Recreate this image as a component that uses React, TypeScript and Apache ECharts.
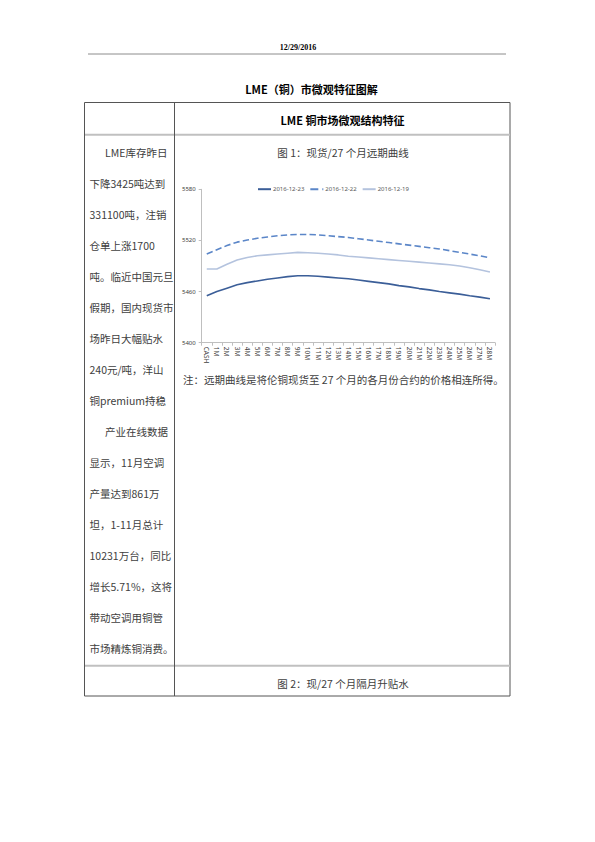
import React, { useEffect, useRef } from "react";
import * as echarts from "echarts";

const categories = ["CASH", "1M", "2M", "3M", "4M", "5M", "6M", "7M", "8M", "9M", "10M", "11M", "12M", "13M", "14M", "15M", "16M", "17M", "18M", "19M", "20M", "21M", "22M", "23M", "24M", "25M", "26M", "27M", "28M"];

const seriesNames = ["2016-12-23", "2016-12-22", "2016-12-19"];

const s20161223 = [5455, 5460, 5464, 5468, 5470.5, 5472.5, 5474.5, 5476, 5477.5, 5478.5, 5478.5, 5478, 5477, 5476, 5475, 5473.5, 5472, 5470.5, 5469, 5467, 5465.5, 5463.5, 5462, 5460, 5458.5, 5457, 5455, 5453.5, 5451.5];
const s20161222 = [5504, 5509, 5514, 5518, 5520.5, 5522.5, 5524, 5525.5, 5526.5, 5527, 5527, 5526.5, 5525.5, 5524.5, 5523.5, 5522, 5520.5, 5519, 5517.5, 5516, 5514.5, 5513, 5511.5, 5510, 5508, 5506, 5504, 5502, 5499.5];
const s20161219 = [5486.5, 5486.5, 5492, 5497, 5500, 5502, 5503, 5504, 5505, 5506, 5505.5, 5505, 5504, 5503, 5501.5, 5500.5, 5499.5, 5498.5, 5497.5, 5496.5, 5495.5, 5494.5, 5493.5, 5492.5, 5491.5, 5490, 5488, 5485.5, 5483];

const yMin = 5400;
const yMax = 5580;
const yInterval = 60;

const leftLines = [
  "LME库存昨日",
  "下降3425吨达到",
  "331100吨，注销",
  "仓单上涨1700",
  "吨。临近中国元旦",
  "假期，国内现货市",
  "场昨日大幅贴水",
  "240元/吨，洋山",
  "铜premium持稳",
  "产业在线数据",
  "显示，11月空调",
  "产量达到861万",
  "坦，1-11月总计",
  "10231万台，同比",
  "增长5.71%，这将",
  "带动空调用铜管",
  "市场精炼铜消费。",
];
const indentedLines = [0, 9];

const headerDate = "12/29/2016";
const pageTitle = "LME（铜）市微观特征图解";
const tableHeader = "LME 铜市场微观结构特征";
const fig1Title = "图 1：现货/27 个月远期曲线";
const fig2Title = "图 2：现/27 个月隔月升贴水";
const noteText = "注：远期曲线是将伦铜现货至 27 个月的各月份合约的价格相连所得。";

const CJK = '"Noto Sans CJK SC", "Noto Sans", sans-serif';
const TEXT_COLOR = "#404040";

export default function App() {
  const ref = useRef<HTMLDivElement>(null);

  useEffect(() => {
    if (!ref.current) return;
    const chart = echarts.init(ref.current, undefined, { renderer: "svg" });

    const graphics: any[] = [
      {
        type: "text",
        x: 298,
        y: 47,
        style: {
          text: headerDate,
          fill: "#000",
          font: 'bold 8px "Liberation Serif", serif',
          textAlign: "center",
          textVerticalAlign: "middle",
        },
      },
      {
        type: "line",
        shape: { x1: 88, y1: 54, x2: 506, y2: 54 },
        style: { stroke: "#8c8c8c", lineWidth: 1 },
      },
      {
        type: "text",
        x: 311.5,
        y: 89,
        style: {
          text: pageTitle,
          fill: "#000",
          font: `bold 11px ${CJK}`,
          textAlign: "center",
          textVerticalAlign: "middle",
        },
      },
      {
        type: "rect",
        shape: { x: 84.5, y: 102.5, width: 425.5, height: 593.5 },
        style: { fill: "none", stroke: "#555", lineWidth: 1 },
      },
      {
        type: "line",
        shape: { x1: 85, y1: 134.7, x2: 510, y2: 134.7 },
        style: { stroke: "#c0c0c0", lineWidth: 2 },
      },
      {
        type: "line",
        shape: { x1: 85, y1: 665.7, x2: 510, y2: 665.7 },
        style: { stroke: "#c0c0c0", lineWidth: 2 },
      },
      {
        type: "line",
        shape: { x1: 174.5, y1: 102.5, x2: 174.5, y2: 696 },
        style: { stroke: "#555", lineWidth: 1 },
      },
      {
        type: "text",
        x: 342.5,
        y: 119.5,
        style: {
          text: tableHeader,
          fill: "#000",
          font: `bold 11px ${CJK}`,
          textAlign: "center",
          textVerticalAlign: "middle",
        },
      },
      {
        type: "text",
        x: 343,
        y: 152,
        style: {
          text: fig1Title,
          fill: TEXT_COLOR,
          font: `10.5px ${CJK}`,
          textAlign: "center",
          textVerticalAlign: "middle",
        },
      },
      {
        type: "text",
        x: 343,
        y: 683,
        style: {
          text: fig2Title,
          fill: TEXT_COLOR,
          font: `10.5px ${CJK}`,
          textAlign: "center",
          textVerticalAlign: "middle",
        },
      },
      {
        type: "text",
        x: 183,
        y: 379,
        style: {
          text: noteText,
          fill: TEXT_COLOR,
          font: `10.5px ${CJK}`,
          textAlign: "left",
          textVerticalAlign: "middle",
        },
      },
    ];

    leftLines.forEach((line, i) => {
      graphics.push({
        type: "text",
        x: indentedLines.includes(i) ? 105 : 89.5,
        y: 152 + i * 31,
        style: {
          text: line,
          fill: TEXT_COLOR,
          font: `10.5px ${CJK}`,
          textAlign: "left",
          textVerticalAlign: "middle",
        },
      });
    });

    const lineColors = ["#3b5e98", "#5b86c8", "#b4c3de"];
    const lineTypes = ["solid", "dashed", "solid"];
    const datas = [s20161223, s20161222, s20161219];

    chart.setOption({
      animation: false,
      backgroundColor: "#ffffff",
      textStyle: { fontFamily: '"Noto Sans", sans-serif' },
      legend: {
        left: 252,
        top: 181,
        itemWidth: 13,
        itemHeight: 8,
        itemGap: 5,
        itemStyle: { opacity: 0 },
        textStyle: { fontSize: 6, color: "#595959", padding: [0, 0, 0, -3] },
        data: seriesNames,
      },
      grid: {
        left: 201.7,
        right: 100,
        top: 189.3,
        bottom: 842 - 342.7,
        containLabel: false,
      },
      xAxis: {
        type: "category",
        data: categories,
        boundaryGap: true,
        axisLine: { lineStyle: { color: "#bfbfbf", width: 1 } },
        axisTick: { show: true, length: 3, lineStyle: { color: "#bfbfbf" } },
        axisLabel: {
          rotate: -90,
          interval: 0,
          fontSize: 6.5,
          color: "#404040",
          margin: 4,
        },
      },
      yAxis: {
        type: "value",
        min: yMin,
        max: yMax,
        interval: yInterval,
        axisLine: { show: true, lineStyle: { color: "#bfbfbf", width: 1 } },
        axisTick: { show: true, length: 3, lineStyle: { color: "#bfbfbf" } },
        splitLine: { show: false },
        axisLabel: {
          fontSize: 6,
          color: "#404040",
          margin: 6,
          formatter: (v: number) => String(v),
        },
      },
      series: seriesNames.map((name, i) => ({
        name,
        type: "line",
        data: datas[i],
        symbol: "none",
        smooth: false,
        color: lineColors[i],
        lineStyle: { color: lineColors[i], width: 1.6, type: lineTypes[i] as any },
        itemStyle: { color: lineColors[i] },
      })),
      graphic: graphics,
    });

    return () => {
      chart.dispose();
    };
  }, []);

  return (
    <div
      ref={ref}
      style={{ position: "fixed", left: 0, top: 0, width: 595, height: 842, background: "#fff" }}
    />
  );
}
